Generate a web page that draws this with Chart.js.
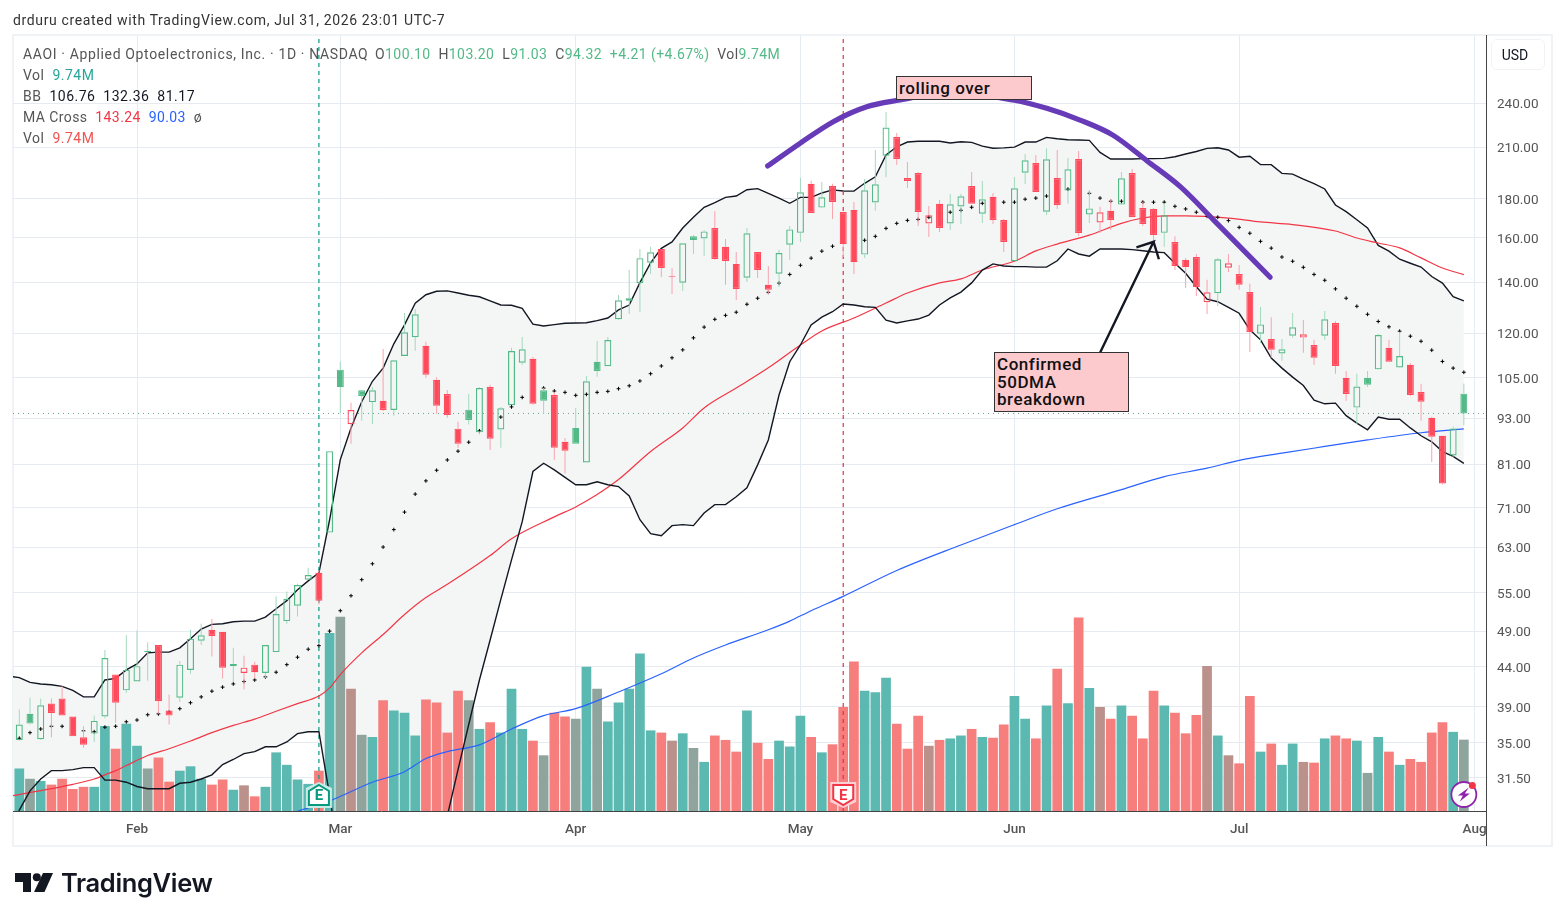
<!DOCTYPE html>
<html lang="en">
<head>
  <meta charset="UTF-8">
  <title>AAOI</title>
  <script src="https://cdn.jsdelivr.net/npm/chart.js@4/dist/chart.umd.js"></script>
  <style>
    * { box-sizing: border-box; }
    html, body { margin: 0; background: white; overflow: hidden; }
    canvas { position: absolute; left: 0; top: 0; }
    .txt { position: absolute; font: 14px Roboto, sans-serif; color: #555; white-space: pre; line-height: 20px; letter-spacing: 0.64px; }
    .row { letter-spacing: 0.5px; }
    .tight { letter-spacing: 0.42px; }
    .note { position: absolute; background: #fcc9cd; border: 1px solid #333; color: #111; font: 500 17px/17.5px Roboto, sans-serif; padding: 3px 2px; white-space: pre; letter-spacing: 0.55px; }
    .g { color: #53b987; } .t { color: #26a69a; } .r { color: #f23645; } .b { color: #2962ff; } .k { color: #131722; } .v { color: #ef5350; }
    #usd { position: absolute; left: 1491px; top: 39px; width: 54px; height: 31px; border: 1px solid #f0f3f6; border-radius: 6px; font: 14px/30px Roboto, sans-serif; color: #131722; text-align: center; padding-right: 6px; }
    #logo { position: absolute; left: 15px; top: 873px; }
    #brand { position: absolute; left: 61px; top: 866px; font: 600 25.5px/34px Inter, sans-serif; color: #131722; letter-spacing: -0.35px; }
  </style>
</head>
<body>
  <canvas id="chart" width="1564" height="921"></canvas>
  <div class="txt" style="left:13px;top:10px;color:#333">drduru created with TradingView.com, Jul 31, 2026 23:01 UTC-7</div>
  <div class="txt" style="left:23px;top:44px">AAOI · Applied Optoelectronics, Inc. · 1D · NASDAQ</div>
  <div class="txt tight" style="left:375px;top:44px">O<span class="g">100.10</span>  H<span class="g">103.20</span>  L<span class="g">91.03</span>  C<span class="g">94.32</span>  <span class="g">+4.21 (+4.67%)</span>  Vol<span class="g">9.74M</span></div>
  <div class="txt row" style="left:23px;top:65px">Vol  <span class="t">9.74M</span></div>
  <div class="txt row" style="left:23px;top:86px">BB  <span class="k">106.76  132.36  81.17</span></div>
  <div class="txt tight" style="left:23px;top:107px">MA Cross  <span class="r">143.24</span>  <span class="b">90.03</span>  ø</div>
  <div class="txt row" style="left:23px;top:128px">Vol  <span class="v">9.74M</span></div>
  <div class="note" style="left:896px;top:76px;width:136px;height:24px">rolling over</div>
  <div class="note" style="left:994px;top:352px;width:135px;height:60px">Confirmed
50DMA
breakdown</div>
  <div id="usd">USD</div>
  <svg id="logo" width="38" height="20" viewBox="0 0 38 20"><path fill="#131722" d="M0 0H16V19H8V9H0Z"/><circle fill="#131722" cx="21.8" cy="4.2" r="4"/><path fill="#131722" d="M28 0H38L29.5 19H19Z"/></svg>
  <div id="brand">TradingView</div>
  <script>
    const open_ = [35.3,38.2,35.4,39.4,40.0,37.9,35.6,36.0,37.9,43.0,
      41.0,42.1,46.0,47.0,38.6,40.1,43.6,47.6,49.2,48.9,
      44.1,43.2,44.3,43.2,46.0,50.5,52.9,57.2,58.4,65.9,
      107.6,91.3,101.1,97.6,98.0,95.3,112.1,118.6,115.6,104.4,
      100,90.1,95.4,89.1,102.1,89.9,96.7,109.9,111.2,101.1,
      99.7,86.6,90.3,81.4,110.2,108.7,125.2,132.4,139.6,148.4,
      154.7,142.6,139.8,160.8,159.7,164.8,155.7,147.9,141.9,153.3,
      138.9,143.6,156.7,162.4,188.2,175.2,187,172.9,174,152.1,
      177.9,204.8,216.7,191.5,194.4,167,177.2,167,175.8,187,
      172,181,168.8,149.1,194.6,200.4,173,191.5,184.4,202.8,
      171.6,167.5,173.5,176.8,194.4,175,174.5,162.4,158,149.7,
      151,131.8,135.4,146.2,143.5,135.9,119.9,118,113,119.2,
      118.5,115.9,119.2,123.8,105,96,105,107.7,114.9,108.3,
      109.2,100.6,93.1,88.2,83.1,100.10];
    const high = [38.7,40.1,40.0,40.0,41.5,37.9,36.8,38.0,46.3,43.0,
      48.4,49.1,47.4,47.0,40.5,44.8,49.2,50.1,50.8,48.9,
      46.6,45.5,44.7,47.0,54.4,55.2,56.5,59.3,58.9,84.2,
      110.2,97.4,101.2,102.1,114.5,110.8,127.6,129.1,117,105.2,
      101.2,92,100,102.1,102.8,96.2,114.9,118.7,111.8,101.8,
      100.6,87.6,95.9,105.6,117.3,118.7,134.7,145.2,154.7,155.7,
      154.7,146.1,157.4,161.3,163.8,173.4,159.4,153.3,164.8,153.3,
      147,154.3,165.8,191.5,189.9,189.3,188.2,172.9,178.2,191,
      208.4,233.6,219.3,201,195,176.1,179.3,182.5,182.5,195,
      189.8,183.1,169.3,192.1,205.9,205.3,209.5,208.4,203.4,207.7,
      184.8,175.6,179.8,195,196.8,178.2,175,177.7,160.8,150.6,
      152.4,141,150.6,152.4,147.4,139.3,129.9,126,118,127.6,
      124.9,117.7,128.4,124.6,107.2,106.3,107.2,119.8,117.7,120.6,
      109.8,103.1,93.4,88.2,90.6,103.20];
    const low = [35.3,37.0,35.3,35.6,38.0,35.7,34.5,35.1,37.7,37.2,
      40.7,42.1,42.2,38.2,37.0,39.6,43.1,47.0,45.4,42.5,
      42.0,41.1,42.5,42.6,46.0,50.1,51.2,57.2,53.1,65.9,
      94.4,86.1,92.3,91.4,95.0,93.7,112.1,113.9,105,94.2,
      93.1,85.1,91.2,88.5,84.5,85.1,96.7,109.2,96.8,94.2,
      82,78.7,86.1,81.3,105.3,108.7,124.9,127.2,128,143.5,
      142.2,135.1,136.3,152.4,151.5,149.7,138.9,132.7,140.1,141.8,
      135.1,138,149.7,158,172.4,175,169.3,151,143.5,150.6,
      173.5,192,199.2,185.9,165.8,160.4,162.8,163.8,166.8,177.2,
      167.3,166.8,153.3,149.1,188.1,183.6,171.4,174.5,177.2,160.9,
      167.3,162.3,163.8,176.6,170.3,165.8,158.4,155.7,145.2,137.6,
      134.3,127.2,130.3,144.3,136.8,113.5,116.6,111.5,110.5,118.4,
      113.2,109.2,117.7,106.3,98,91.4,102.1,107.6,110.2,108.2,
      99.4,92.3,81.5,76.1,82.8,91.03];
    const close_ = [37.0,37.1,39.2,38.3,38.0,35.7,34.8,37.4,45.2,39.5,
      43.6,44.1,46.2,39.7,38.0,44.3,47.9,48.4,48.3,43.9,
      44.4,43.9,43.3,47.0,51.6,54.0,56.3,58.0,53.7,84.2,
      102.1,95.3,99.4,101.1,95.3,110.7,120.4,127.1,106,96.5,
      93.9,86.1,92.5,101.8,87.4,95.8,113.8,114.4,97.1,98,
      85.1,84.3,86.1,103.9,107.2,117.6,132.6,133.4,150.5,153.2,
      146.1,142.3,157.4,158.9,163.1,150.1,149.2,137.2,162.2,145.2,
      136.8,152.8,164.1,183.5,172.4,180.7,178.2,157,148.7,184.6,
      188,223,202.8,189.8,172.9,171.2,164.8,177,181.3,177.2,
      179.7,168.8,158,185.7,202,183.6,202.6,176.6,196.6,162.3,
      174.8,172.8,168.8,191.4,170.3,166.8,161.3,171.2,147,146.5,
      138,135.8,150,148.2,138.9,120.5,123.3,114.2,114.4,122.2,
      119.7,111.5,125.2,108.8,100,102.3,102.8,119.4,110.2,112.1,
      99.7,97.7,87.9,76.4,90.11,94.32];
    // volume in millions
    const volume = [5.8,4.4,4.1,3.6,4.4,3.0,3.3,3.3,11.6,8.5,
      11.9,8.9,5.8,7.3,4.0,5.5,6.1,4.4,3.6,4.3,
      2.9,3.5,2.0,3.3,8.0,6.3,4.3,3.7,5.5,24.3,
      26.5,16.7,10.4,10.1,15.1,13.7,13.4,10.3,15.2,14.8,
      10.7,16.4,15.1,11.2,12.1,10.7,16.7,11.2,9.6,7.6,
      13.4,12.9,12.6,19.7,16.7,12.2,14.8,16.7,21.5,11.0,
      10.7,9.6,10.6,8.6,6.7,10.3,9.7,8.1,13.7,9.3,
      7.1,9.6,8.8,13.0,10.1,8.0,9.1,14.2,20.4,16.4,
      16.2,18.2,11.9,8.5,13.0,8.9,9.7,9.9,10.3,11.2,
      10.1,10.0,11.8,15.7,12.6,9.9,14.4,19.4,14.7,26.4,
      16.8,14.2,12.6,14.4,13.0,9.9,16.4,14.4,13.4,10.6,
      13.1,19.8,10.3,7.6,6.5,15.7,8.1,9.2,6.3,9.2,
      6.7,6.6,9.9,10.3,9.9,9.6,5.2,10.1,8.1,6.3,
      7.1,6.7,10.7,12.1,10.8,9.74];
    // t teal, r red, g and b where the two volume overlays mix
    const volKind = ('tgtrrrrttr'+'ttgrrtttrr'+'tbrtttttrt'+'gbgtrtttrr'+'rrgtrtttrg'+'rrgtgttttt'+'rbtgtrrrtr'+
      'rtttrtrrrt'+'ttrrrbrttr'+'trrttrtrtr'+'tbrtrrrtrr'+'rbtbrrtrtt'+'brtrrtgtrt'+'rrrrtg').split('');
    const bbMid = [35.5,36.1,36.5,36.8,36.8,36.6,36.3,36.2,36.7,36.8,
      37.3,37.5,38.1,38.2,38.4,38.8,39.5,40.2,40.9,41.4,
      41.8,42.1,42.3,42.7,43.3,44.3,45.3,46.4,46.9,49.0,
      52.1,54.5,57.2,60.0,63.1,66.5,70.1,74,77,79.5,
      82,84.2,86.5,89.5,92,93.3,96.2,99,100.6,101.8,
      100.9,100.5,99.6,99.9,100.5,100.8,101.6,102.5,104,106.3,
      108.8,111.5,114.2,118.4,122.3,125.2,126.7,127.9,131,133.4,
      135.8,139.6,143.3,147.3,150.5,153.7,156,158,159.4,158.8,
      160.7,164.6,167.1,168.6,169.1,170.2,172.4,172.8,173.8,175.4,
      177.5,178.1,178.1,178.1,179.7,180.3,181.4,183.1,185.2,183.8,
      182.9,180.3,178.6,178.6,178.2,178.1,178.1,178.1,175.9,174.5,
      172.8,170.7,170.2,168.5,165.1,162.2,158.3,155.1,151,149.1,
      146.4,143.3,140.8,137.2,133.4,130.2,127.1,124.4,122.4,120.8,
      119,117.2,114.1,110.3,108.1,106.76];
    const bbUpper = [42.6,42,41.8,41.7,41.5,41,40.2,40.2,42.3,42.5,
      43.6,44.4,45.9,46,46,46.6,47.9,49.3,50,50.1,
      50.4,50.5,50.5,51.1,52.4,53.7,55.5,57,58.4,68.5,
      82.1,90.3,97.7,103.9,108.1,116.3,123.1,131.4,134.8,136.2,
      136.4,135.5,134.6,134,132.3,130.7,130.6,129.4,123.4,122.7,
      123.2,123.7,123.8,123.9,124.7,125.7,128.8,130.7,139.8,148.4,
      155,158,164.8,170.2,175.4,177.9,180.7,181.4,184.9,185.5,
      182.9,180.3,177.5,180.7,180.7,183.1,184.8,184.2,184.1,188.5,
      192.2,205.3,210.4,213.4,213.9,213.9,213.9,212.8,213.6,213.2,
      210.8,209.5,209.7,210.2,213.4,213.4,216.4,215.5,214.9,214.7,
      214.5,206.9,202.8,202.8,202.8,203,203,203.2,204.2,205.9,
      207.4,209.4,209.8,208.4,203.9,204.5,199.4,199.4,194.2,193.8,
      190.9,188.3,185.3,176.6,173.1,168.9,164.8,156.4,153.7,150,
      148.2,146.5,142.4,139.6,134,132.36];
    // null: the lower band is below the chart there and cannot be read
    const bbLower = [28.6,30.3,31.4,32.2,32.2,32.3,32.5,32.5,31.3,31.3,
      31.1,30.7,30.5,30.5,30.5,31,31.1,31.4,31.8,32.8,
      33.3,33.9,34.1,34.6,34.6,35.1,36,36.2,36.2,29.9,
      24.3,null,null,null,null,null,null,null,null,24.2,
      28.1,32.3,37,42.3,47.7,53.9,60.7,68.1,79.2,81.2,
      79.6,77.8,76.1,76.1,76.8,76.1,75.7,73.6,68.5,65.7,
      65.3,67.3,67.5,67.3,69.9,71.7,71.7,73.4,75.4,80.8,
      87.1,99.7,110.2,115.9,123.1,126,128.1,131.1,130.7,130,
      129.8,124.9,123.8,124.6,125.3,126.8,130.7,133.5,135.9,139.7,
      145.2,147.9,147,146.7,146.7,146.5,146.5,149.3,154.7,152.4,
      151.4,154.7,154.7,154.7,154.4,153.9,153.3,153,148.2,143.8,
      138.1,133,132,129.8,127.5,121.3,117.7,111.4,108.1,105.2,
      102.6,98.2,97.1,97.3,93.7,91.6,89.8,93.3,92.7,92.7,
      90.3,88.2,86.6,84.1,82.9,81.17];
    // the bar before the first visible one, only its line ends show at the left edge
    const bbUpperPrior = 42.8, bbLowerPrior = 26.5;
    const ma50Idx = [-1,3,5,7,8,9,10,12,14,16,18,20,22,24,26,28,29,30,32,34,36,38,40,44,46,50,52,54,56,59,62,64,67,70,73,75,78,81,83,86,88,90,93,95,97,100,103,105,107,109,113,116,119,123,125,127,129,131,133,135];
    const ma50 = [29.8,30.5,30.9,31.4,31.8,32.2,32.7,33.7,34.4,35.2,36.1,36.9,37.6,38.5,39.4,40.3,41.3,43,45.9,48.5,51.5,54.2,56.4,61.5,64.7,69.1,71.2,73.9,77.3,84.1,90.3,95.9,101.8,108.2,115.9,120.9,125.7,131.5,135.5,139.7,141.4,145.2,149.1,153.8,157,161.3,167.1,169.8,170.9,170.9,169.8,167.8,166.5,163.3,159.9,157.5,155.2,150.6,146.1,143.24];
    const ma200Idx = [26,29,33,36,38,40,43,46,49,52,56,60,63,66,70,72,74,77,82,88,93,97,103,107,111,114,118,122,126,131,135];
    const ma200 = [28.5,29.4,31.1,32.1,33.4,34.1,34.8,36.5,38,38.8,40.8,43.1,45.2,47,49.2,50.5,52.1,54.4,58.8,63.5,67.5,70.8,75,78,80,81.9,83.7,85.4,87.1,89,90.03];
    const arcIdx = [69.94,72.96,76.07,79.2,82.31,86.98,92.87,96.02,99.13,102.2,105.4,108.5,111.6,116.9];
    const arcPrice = [198.6,212.6,226.9,237.3,242.2,248,242.2,236.2,228,217.9,201.6,186.6,168.9,142.1];
    const arrowIdx = [101,106,104.4,106,106.5];
    const arrowPrice = [113.2,158.1,155.5,158.1,150];
    const earningsIdx = [28,77];
    const lastClose = 94.32;
    const monthIdx = [11,30,52,73,93,114,136];
    const monthLabels = ['Feb','Mar','Apr','May','Jun','Jul','Aug'];
    const priceTicks = [240,210,180,160,140,120,105,93,81,71,63,55,49,44,39,35,31.5];

    const priceMin = 28.52, priceMax = 294.5, volMax = 105.9;
    const xMin = -0.589, xMax = 137.07;
    const red = '#ff4a5c', green = '#53b987';
    const isRed = i => i > 0 && close_[i] < close_[i-1];
    const zip = (xs, ys) => xs.map((x, i) => ({ x, y: ys[i] }));
    const bars = ys => ys.map((y, x) => ({ x, y })).filter(p => p.y !== null);
    const volColors = { t: '#5cb9b1', r: '#f67f7e', g: '#8fa49d', b: '#bb918b' };

    const line = (data, color, width, order, extra) => Object.assign({
      type: 'line', data, borderColor: color, borderWidth: width, pointRadius: 0, order, tension: 0, yAxisID: 'y'
    }, extra || {});
    const barSet = (data, thick, colors, order, extra) => Object.assign({
      type: 'bar', data, barThickness: thick, backgroundColor: colors, grouped: false, order,
      borderWidth: 0, inflateAmount: 0, yAxisID: 'y'
    }, extra || {});

    const wickColor = close_.map((c, i) => isRed(i) ? '#f9a3ae' : '#a3d9bd');
    const bodyColor = close_.map((c, i) => isRed(i) ? red : green);
    const bodyFill = close_.map((c, i) => c > open_[i] ? 'rgba(0,0,0,0)' : bodyColor[i]);

    const datasets = [
      line([{ x: -1, y: bbUpperPrior }].concat(bars(bbUpper)), '#131722', 1.4, 20, { fill: { target: 1 }, backgroundColor: '#f4f6f6' }),
      line([{ x: -1, y: bbLowerPrior }].concat(bars(bbLower)), '#131722', 1.4, 6),
      barSet(bars(volume), 9.7, volKind.map(k => volColors[k]), 15, { yAxisID: 'vol' }),
      line(zip(ma50Idx, ma50), '#f23645', 1.2, 8, { cubicInterpolationMode: 'monotone' }),
      line(zip(ma200Idx, ma200), '#2962ff', 1.2, 8, { cubicInterpolationMode: 'monotone' }),
      line([{ x: xMin, y: lastClose }, { x: xMax, y: lastClose }], '#6b9f8d', 1, 9, { borderDash: [1, 4] }),
      line([{ x: earningsIdx[0], y: priceMin }, { x: earningsIdx[0], y: priceMax }], '#089981', 1.2, 10, { borderDash: [4, 4] }),
      line([{ x: earningsIdx[1], y: priceMin }, { x: earningsIdx[1], y: priceMax }], '#e0324a', 1.2, 10, { borderDash: [4, 4] }),
      line(bars(bbMid), 'rgba(0,0,0,0)', 0, 7, { showLine: false, pointStyle: 'cross', pointRadius: 1.9,
        pointBorderColor: '#000', pointBorderWidth: 1 }),
      barSet(high.map((h, i) => ({ x: i, y: [Math.max(open_[i], close_[i]), h] })), 1, wickColor, 5),
      barSet(low.map((l, i) => ({ x: i, y: [l, Math.min(open_[i], close_[i])] })), 1, wickColor, 5),
      barSet(open_.map((o, i) => ({ x: i, y: [o, close_[i]] })), 7, bodyFill, 4,
        { borderWidth: 1.2, borderColor: bodyColor, borderSkipped: false }),
      line(zip(arcIdx, arcPrice), '#673ab7', 5.2, 1, { cubicInterpolationMode: 'monotone', borderCapStyle: 'round' }),
      line(zip(arrowIdx, arrowPrice), '#131722', 2.4, 1)
    ];

    // frame round the pane, earnings flags, the round badge at the end
    const decor = {
      id: 'decor',
      beforeDraw(chart) {
        const c = chart.ctx;
        c.save();
        c.strokeStyle = '#f0f3f6'; c.lineWidth = 2;
        c.strokeRect(13, 35, 1539, 811);
        c.restore();
      },
      afterDatasetsDraw(chart) {
        const c = chart.ctx, a = chart.chartArea, x = chart.scales.x;
        c.save();
        c.strokeStyle = '#444'; c.lineWidth = 1;
        c.beginPath(); c.moveTo(a.right + 0.5, a.top); c.lineTo(a.right + 0.5, 846); c.stroke();
        earningsIdx.forEach((idx, n) => {
          const px = x.getPixelForValue(idx), color = n === 0 ? '#089981' : '#f23645';
          const up = n === 0;
          const shape = s => {
            const w = 10 + s, t = 785 - s, b = 805 + s;
            c.beginPath();
            if (up) {
              c.moveTo(px, t); c.lineTo(px + w, t + 6); c.lineTo(px + w, b); c.lineTo(px - w, b); c.lineTo(px - w, t + 6);
            } else {
              c.moveTo(px - w, t); c.lineTo(px + w, t); c.lineTo(px + w, b - 6); c.lineTo(px, b); c.lineTo(px - w, b - 6);
            }
            c.closePath();
          };
          c.fillStyle = up ? '#c8ebe5' : '#fbd0d4'; shape(3); c.fill();
          c.fillStyle = 'white'; c.strokeStyle = color; c.lineWidth = 2; shape(0); c.fill(); c.stroke();
          c.fillStyle = color; c.font = 'bold 15px Roboto, sans-serif'; c.textAlign = 'center'; c.textBaseline = 'middle';
          c.fillText('E', px, 796);
        });
        const bx = x.getPixelForValue(135), by = 794.5;
        c.fillStyle = 'white'; c.strokeStyle = '#8e24aa'; c.lineWidth = 1.8;
        c.beginPath(); c.arc(bx, by, 12.5, 0, Math.PI * 2); c.fill(); c.stroke();
        c.fillStyle = '#8e24aa';
        c.beginPath(); c.moveTo(bx + 5, by - 7); c.lineTo(bx - 6, by + 1); c.lineTo(bx - 1, by + 1); c.lineTo(bx - 4, by + 7);
        c.lineTo(bx + 6, by - 1); c.lineTo(bx + 1, by - 1); c.closePath(); c.fill();
        c.fillStyle = '#f23645';
        c.beginPath(); c.arc(bx + 8.5, by - 9, 3.5, 0, Math.PI * 2); c.fill();
        c.restore();
      }
    };

    new Chart(document.getElementById('chart'), {
      type: 'line',
      data: { datasets },
      plugins: [decor],
      options: {
        responsive: false, animation: false, devicePixelRatio: 1,
        parsing: { xAxisKey: 'x', yAxisKey: 'y' },
        layout: { padding: { left: 13, top: 35, right: 12, bottom: 75 } },
        plugins: { legend: { display: false }, tooltip: { enabled: false } },
        scales: {
          x: {
            type: 'linear', min: xMin, max: xMax, bounds: 'data', offset: false,
            grid: { offset: false, color: '#e4edf3', drawTicks: false },
            border: { color: '#444', width: 1 },
            afterBuildTicks: s => { s.ticks = monthIdx.map(v => ({ value: v })); },
            afterFit: s => { s.height = 35; },
            ticks: { autoSkip: false, maxRotation: 0, padding: 11, color: '#555', font: { family: 'Roboto', size: 13.5, weight: '500' },
              callback: v => monthLabels[monthIdx.indexOf(v)] }
          },
          y: {
            type: 'logarithmic', position: 'right', min: priceMin, max: priceMax, bounds: 'data',
            grid: { color: '#e6ebf1', drawTicks: false },
            border: { color: '#444', width: 1 },
            afterBuildTicks: s => { s.ticks = priceTicks.map(v => ({ value: v })); },
            afterFit: s => { s.width = 66; },
            ticks: { autoSkip: false, padding: 11, labelOffset: 1.5, color: '#555', font: { family: 'Roboto', size: 13.5 },
              callback: v => v.toFixed(2) }
          },
          vol: { type: 'linear', display: false, min: 0, max: volMax, position: 'left' }
        }
      }
    });
  </script>
</body>
</html>
